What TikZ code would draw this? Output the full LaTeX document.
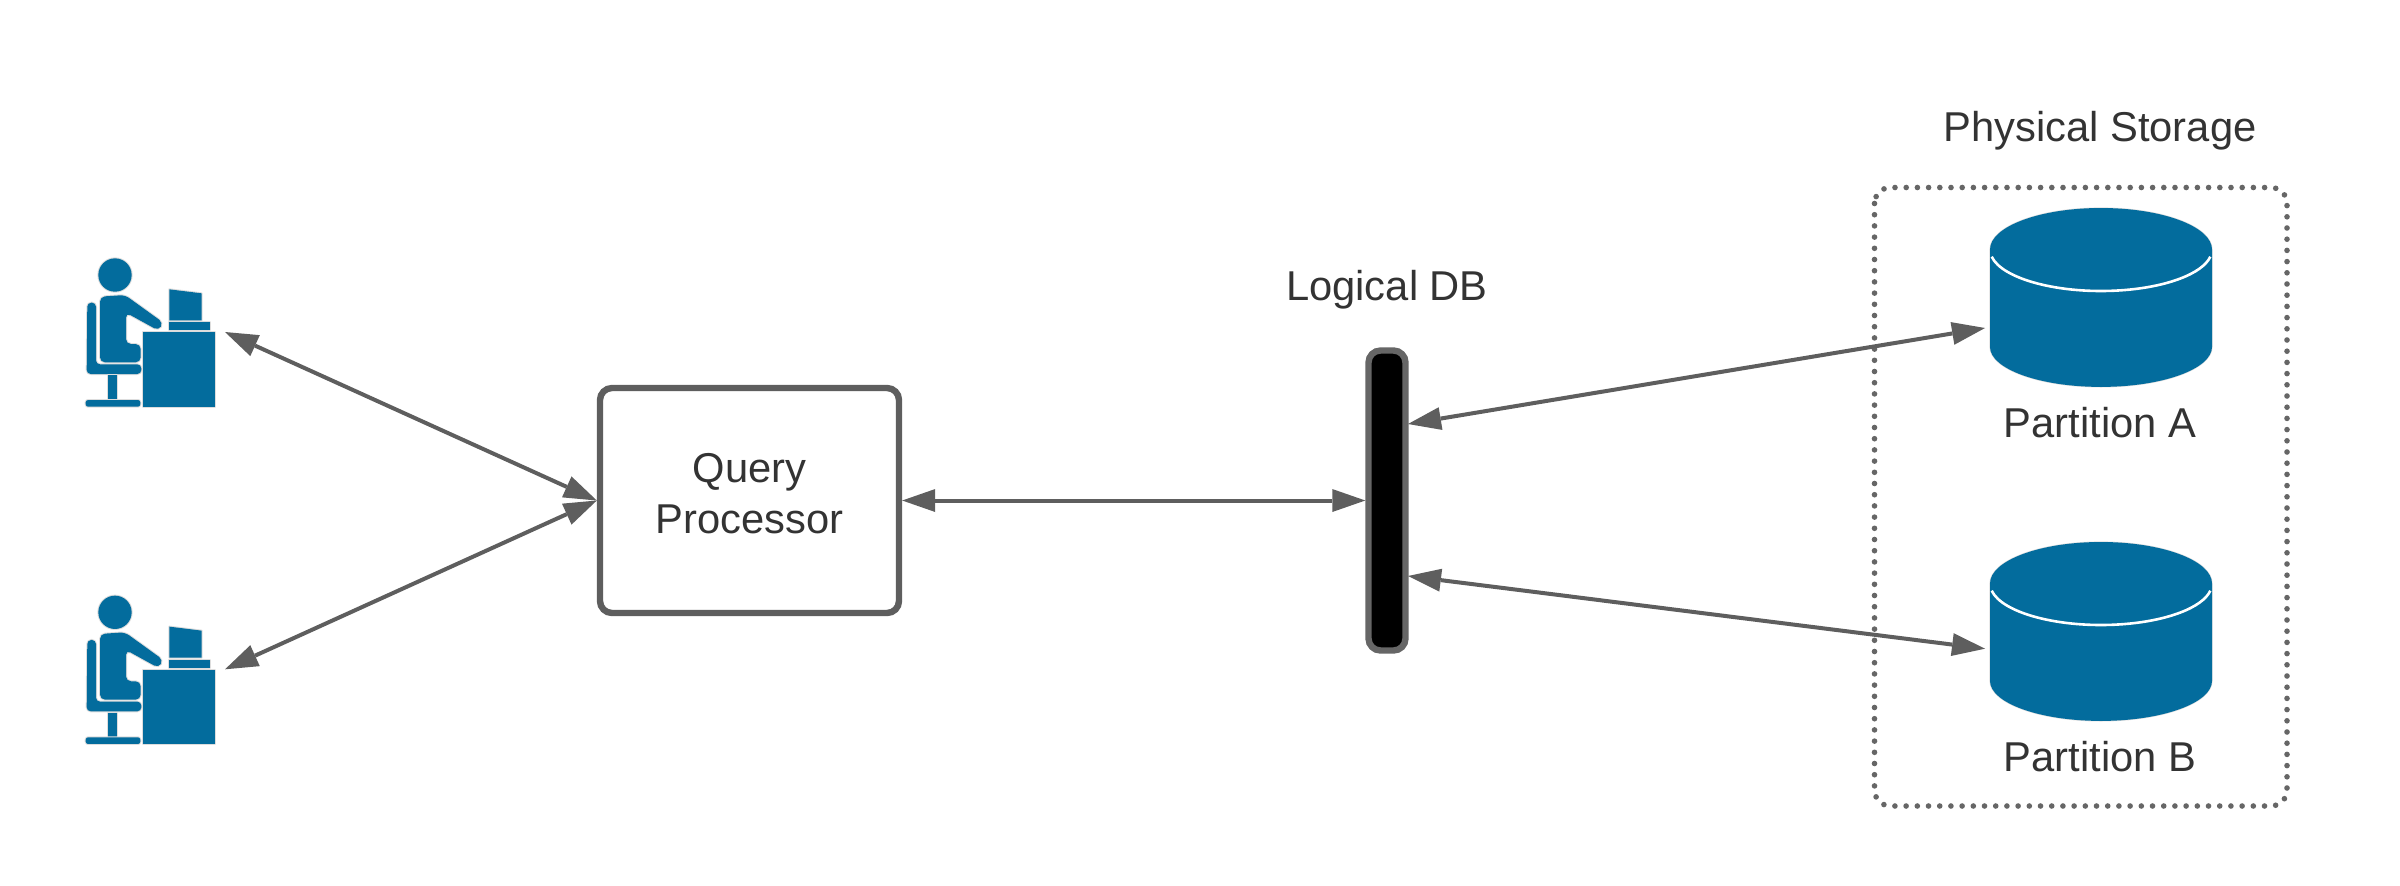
\documentclass[tikz,border=0pt]{standalone}
\usepackage{fontspec}
\setmainfont{Liberation Sans}
\usetikzlibrary{arrows.meta}
\definecolor{inkgray}{HTML}{5E5E5E}
\definecolor{dotgray}{HTML}{666666}
\definecolor{txt}{HTML}{333333}
\definecolor{lucblue}{HTML}{036C9D}
\definecolor{halo}{HTML}{DDDDDD}
\tikzset{
  lab/.style={font=\fontsize{20.85pt}{24pt}\selectfont, text=txt, inner sep=0pt, anchor=base},
  conn/.style={draw=inkgray, line width=2pt, {Triangle[length=16.5pt,width=11.5pt,line width=0pt]}-{Triangle[length=16.5pt,width=11.5pt,line width=0pt]}},
  bluepart/.style={preaction={draw=halo, line width=1pt, line join=round}, fill=lucblue},
  userfig/.pic={
    \begin{scope}[x=0.16667pt,y=-0.16667pt]
      \path[bluepart] (195,135) circle[radius=50];
      \path[bluepart, rounded corners=2.5pt] (150,200) -- (225,195) -- (340,278) -- (326,302) -- (228,248) -- (228,342) -- (272,342) -- (272,397) -- (150,397) -- cycle;
      \path[bluepart, rounded corners=2pt] (112,218) -- (138,218) -- (138,403) -- (274,403) -- (274,432) -- (110,432) -- cycle;
      \path[bluepart] (175,436) rectangle (202,508);
      \path[bluepart, rounded corners=1.2pt] (107,510) rectangle (271,530);
      \path[bluepart] (279,307) rectangle (494,530);
      \path[bluepart] (358,178) -- (455,190) -- (455,271) -- (358,271) -- cycle;
      \path[bluepart] (356,277) rectangle (479,301);
    \end{scope}
  },
  dbcyl/.pic={
    \path[preaction={draw=halo, line width=0.6pt}, fill=lucblue] (-111,0) -- (-111,97.4) arc[start angle=180, end angle=0, x radius=111, y radius=40] -- (111,0) arc[start angle=0, end angle=-180, x radius=111, y radius=41.5] -- cycle;
    \draw[white, line width=1.3pt] (-109.3,7.2) arc[start angle=170, end angle=10, x radius=111, y radius=41.5];
  }
}
\begin{document}
\begin{tikzpicture}[x=0.5pt,y=-0.5pt]
\useasboundingbox (0,0) rectangle (2400,885);
% dotted frame
\draw[dotgray, line width=2.8pt, line cap=round, dash pattern=on 0pt off 5.6pt, rounded corners=8pt] (1874.5,187.5) rectangle (2287,806);
% users
\pic at (50,230) {userfig};
\pic at (50,567.3) {userfig};
\coordinate (u1) at (225,332);
\coordinate (u2) at (225,669.3);
% query processor
\node[draw=inkgray, line width=3.2pt, rounded corners=6pt, fill=white, minimum width=149.5pt, minimum height=112.5pt, inner sep=0pt] (qp) at (749.5,500.5) {};
\node[lab] (qptext1) at (749.5,482.7) {Query};
\node[lab] (qptext2) at (749.5,533.3) {Processor};
% logical db
\node[draw=dotgray, line width=3.2pt, rounded corners=6pt, fill=black, minimum width=18.5pt, minimum height=150pt, inner sep=0pt] (db) at (1387,500.5) {};
\coordinate (dba) at (1408,424);
\coordinate (dbb) at (1408,576);
\node[lab] (dblabel) at (1387,300) {Logical DB};
% cylinders
\pic at (2101,249.5) {dbcyl};
\pic at (2101,583.5) {dbcyl};
\coordinate (pa) at (1985,328);
\coordinate (pb) at (1985,648.7);
\node[lab] (palabel) at (2100,437.7) {Partition A};
\node[lab] (pblabel) at (2100,771.7) {Partition B};
\node[lab] (pslabel) at (2100,141) {Physical Storage};
% connectors
\draw[conn] (u1) -- (qp.west);
\draw[conn] (u2) -- (qp.west);
\draw[conn] (qp.east) -- (db.west);
\draw[conn] (dba) -- (pa);
\draw[conn] (dbb) -- (pb);
\end{tikzpicture}
\end{document}
